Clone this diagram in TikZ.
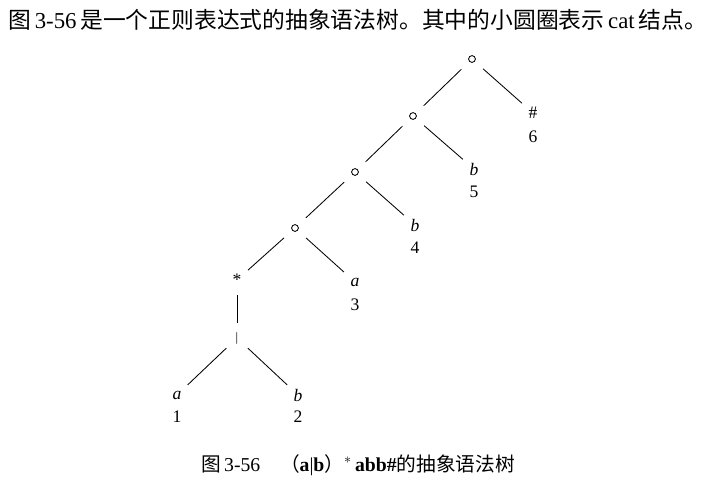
\documentclass[tikz,border=0pt]{standalone}
\usepackage{fontspec}
\setmainfont{Liberation Serif}
\newfontfamily\cjk{Noto Sans CJK SC}

\tikzset{
  tn/.style={circle, minimum size=0.725cm, inner sep=0pt},
  br/.style={line width=0.6pt},
}

\begin{document}
\begin{tikzpicture}[x=0.025cm, y=-0.025cm, font=\fontsize{12.5}{14}\selectfont]
\useasboundingbox (0,0) rectangle (719,488);

% heading line
\node[anchor=west, inner sep=0pt, font=\fontsize{16.2}{18}\selectfont] (title) at (8,20)
  {{\cjk 图}\,3-56\,{\cjk 是一个正则表达式的抽象语法树。其中的小圆圈表示}\,cat\,{\cjk 结点。}};

% cat nodes
\node[tn] (c1) at (472,59)  {}; %1
\node[tn] (c2) at (413,116) {}; %2
\node[tn] (c3) at (355,172) {}; %3
\node[tn] (c4) at (295,228) {}; %4
\foreach \c in {c1,c2,c3,c4}
  \draw[br] (\c) circle (0.085cm);

% star and or
\node[tn] (st) at (237,280) {*};
\node[tn] (or) at (237,338) {\fontsize{9}{10}\selectfont |};

% leaves
\node[tn] (l1) at (177,395) {\textit{a}};  \node[] (n1) at (177,417) {1}; %1
\node[tn] (l2) at (298,395) {\textit{b}};  \node[] (n2) at (298,417) {2}; %2
\node[tn] (l3) at (355,282) {\textit{a}};  \node[] (n3) at (355,305) {3}; %3
\node[tn] (l4) at (415,225) {\textit{b}};  \node[] (n4) at (415,248) {4}; %4
\node[tn] (l5) at (474,169) {\textit{b}};  \node[] (n5) at (474,192) {5}; %5
\node[tn] (l6) at (533,113) {\#};          \node[] (n6) at (533,137) {6}; %6

% branches
\draw[br] (c1) -- (c2);  \draw[br] (c1) -- (l6);
\draw[br] (c2) -- (c3);  \draw[br] (c2) -- (l5);
\draw[br] (c3) -- (c4);  \draw[br] (c3) -- (l4);
\draw[br] (c4) -- (st);  \draw[br] (c4) -- (l3);
\draw[br] (st) -- (or);
\draw[br] (or) -- (l1);  \draw[br] (or) -- (l2);

% caption
\node[anchor=west, inner sep=0pt, font=\fontsize{14}{16}\selectfont] (cap) at (201,465)
  {{\cjk 图}\,3-56\quad{\cjk （}\textbf{a}|\textbf{b}{\cjk ）}$^{*}$\,\textbf{abb\#}{\cjk 的抽象语法树}};

\end{tikzpicture}
\end{document}
